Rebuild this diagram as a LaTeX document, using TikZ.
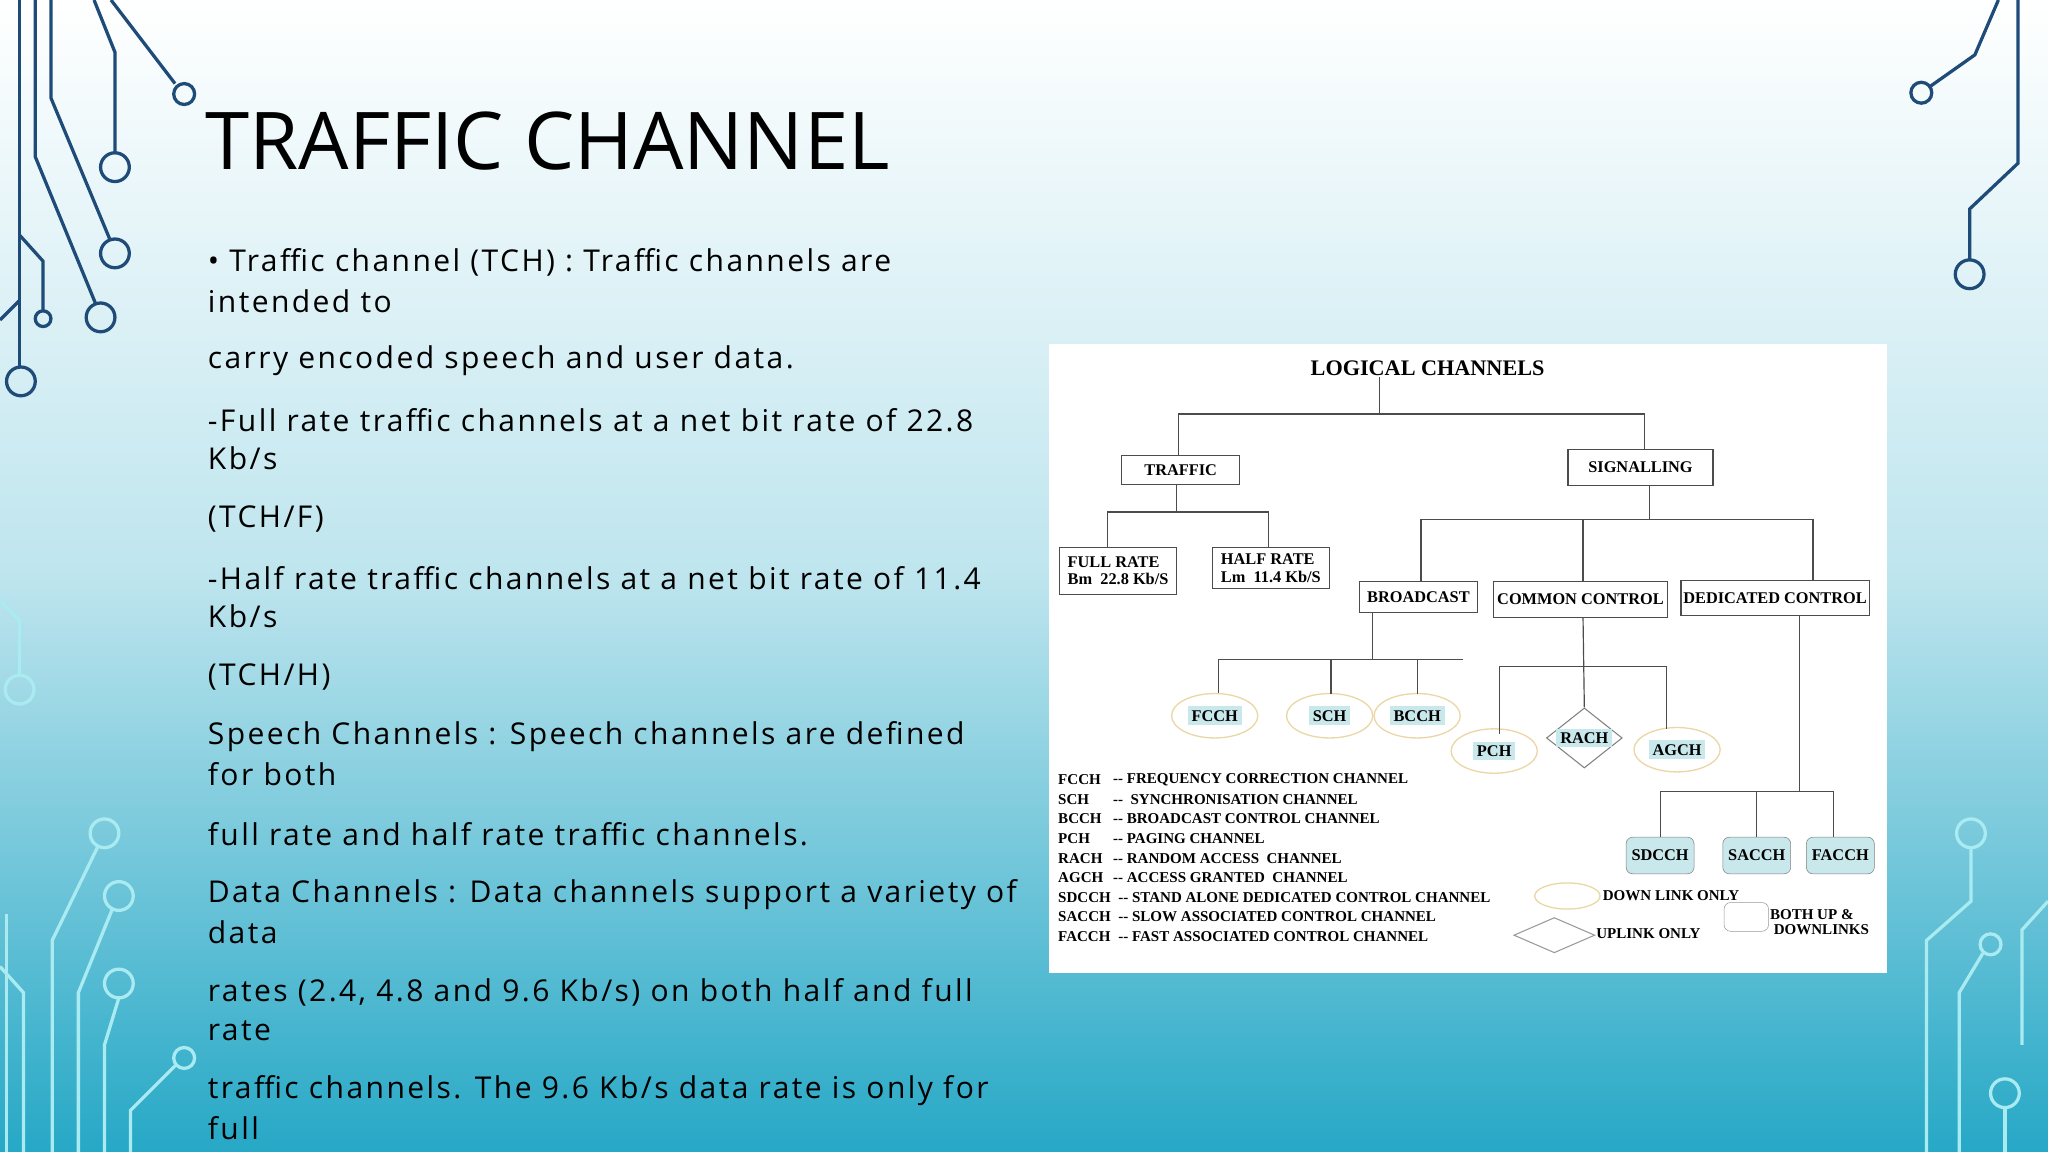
\documentclass[tikz,border=0pt]{standalone}
\usepackage{fontspec}
\setmainfont{Open Sans}[LetterSpace=8]
\newfontfamily\dserif{Liberation Serif}
\usetikzlibrary{shapes.geometric,shapes.misc}
\definecolor{teal1}{RGB}{38,168,198}
\definecolor{dblue}{RGB}{30,75,120}
\definecolor{lcyan}{RGB}{170,235,242}
\definecolor{tan1}{RGB}{235,215,165}
\definecolor{boxc}{RGB}{200,232,236}
\begin{document}
\begin{tikzpicture}[x=1pt,y=-1pt,
  body/.style={anchor=west,font=\fontsize{23}{24}\selectfont,inner sep=0},
  dtext/.style={font=\dserif\bfseries\fontsize{12.5}{13.5}\selectfont,inner sep=1pt},
  dbox/.style={dtext,draw=black!70,line width=0.8pt,rectangle,inner sep=2pt},
  ell/.style={ellipse,draw=tan1,line width=1pt,minimum width=66pt,minimum height=34pt,inner sep=0},
  lab/.style={dtext,fill=boxc,inner sep=3pt},
  oct/.style={draw=black!50,rounded corners=5pt,minimum width=52pt,minimum height=28pt,fill=boxc},
  dia/.style={diamond,draw=black!50,line width=0.8pt,aspect=1.3,minimum width=58pt,minimum height=46pt,inner sep=0},
  wire/.style={draw=black!70,line width=0.9pt},
  legend/.style={anchor=west,font=\dserif\bfseries\fontsize{11.5}{12}\selectfont,inner sep=0},
  cd/.style={draw=dblue,line width=2.5pt},
  cl/.style={draw=lcyan,line width=2.5pt}]
\useasboundingbox (0,0) rectangle (1568,882);
\shade[top color=white,bottom color=teal1,middle color=teal1!30] (0,0) rectangle (1568,882);
% circuit top-left
\draw[cd] (15,0)--(15,281); \draw[cd] (16,292) circle (11);
\draw[cd] (27,0)--(27,120)--(73,232); \draw[cd] (77,243) circle (11);
\draw[cd] (39,0)--(39,75)--(84,183); \draw[cd] (88,194) circle (11);
\draw[cd] (72,0)--(88,40)--(88,117); \draw[cd] (88,128) circle (11);
\draw[cd] (85,0)--(134,64); \draw[cd] (141,72) circle (8);
\draw[cd] (15,180)--(33,200)--(33,238); \draw[cd] (33,244) circle (6);
\draw[cd] (0,245)--(15,230);
% circuit top-right
\draw[cd] (1530,0)--(1512,42)--(1478,66); \draw[cd] (1471,71) circle (8);
\draw[cd] (1545,0)--(1545,125)--(1508,160)--(1508,199); \draw[cd] (1508,210) circle (11);
% circuit bottom-left
\draw[cl] (0,460)--(15,475)--(15,517); \draw[cl] (15,528) circle (11);
\draw[cl] (75,648)--(40,720)--(40,882); \draw[cl] (80,638) circle (11);
\draw[cl] (86,696)--(60,760)--(60,882); \draw[cl] (91,686) circle (11);
\draw[cl] (91,764)--(80,800)--(80,882); \draw[cl] (91,753) circle (11);
\draw[cl] (135,815)--(100,850)--(100,882); \draw[cl] (141,810) circle (8);
\draw[cl] (5,700)--(5,882); \draw[cl] (0,740)--(18,760)--(18,882);
% circuit bottom-right
\draw[cl] (1509,649)--(1509,690)--(1475,720)--(1475,882); \draw[cl] (1509,638) circle (11);
\draw[cl] (1518,730)--(1500,760)--(1500,882); \draw[cl] (1524,723) circle (8);
\draw[cl] (1535,848)--(1535,882); \draw[cl] (1535,837) circle (11);
\draw[cl] (1568,690)--(1548,712)--(1548,800);
% title and body
\node[anchor=west,inner sep=0,font=\addfontfeatures{LetterSpace=0}\fontsize{61}{66}\selectfont] (title) at (157,108) {TRAFFIC CHANNEL};
\node[body] (t1) at (159,201) {• Traffic channel (TCH) : Traffic channels are};
\node[body] (t2) at (159,231) {intended to};
\node[body] (t3) at (159,276) {carry encoded speech and user data.};
\node[body] (t4) at (159,322) {-Full rate traffic channels at a net bit rate of 22.8};
\node[body] (t5) at (159,351) {Kb/s};
\node[body] (t6) at (159,397) {(TCH/F)};
\node[body] (t7) at (159,443) {-Half rate traffic channels at a net bit rate of 11.4};
\node[body] (t8) at (159,472) {Kb/s};
\node[body] (t9) at (159,518) {(TCH/H)};
\node[body] (t10) at (159,564) {Speech Channels : Speech channels are defined};
\node[body] (t11) at (159,593) {for both};
\node[body] (t12) at (159,639) {full rate and half rate traffic channels.};
\node[body] (t13) at (159,685) {Data Channels : Data channels support a variety of};
\node[body] (t14) at (159,714) {data};
\node[body] (t15) at (159,760) {rates (2.4, 4.8 and 9.6 Kb/s) on both half and full};
\node[body] (t16) at (159,789) {rate};
\node[body] (t17) at (159,835) {traffic channels. The 9.6 Kb/s data rate is only for};
\node[body] (t18) at (159,864) {full};
% diagram
\fill[white] (803,263) rectangle (1445,745);
\node[font=\dserif\bfseries\fontsize{17}{18}\selectfont,inner sep=1pt] (lc) at (1093,282) {LOGICAL CHANNELS};
\node[dbox,minimum width=90pt,minimum height=22pt] (traffic) at (904,360) {TRAFFIC};
\node[dbox,minimum width=111pt,minimum height=27pt] (sig) at (1256,358) {SIGNALLING};
\node[dbox,align=left,minimum width=90pt,minimum height=36pt] (full) at (856,437) {FULL RATE\\Bm\ \ 22.8 Kb/S};
\node[dbox,align=left,minimum width=90pt,minimum height=31pt] (half) at (973,435) {HALF RATE\\Lm\ \ 11.4 Kb/S};
\node[dbox,minimum width=90pt,minimum height=24pt] (bc) at (1086,457) {BROADCAST};
\node[dbox,minimum width=133pt,minimum height=28pt,inner sep=1pt] (cc) at (1210,459) {COMMON CONTROL};
\node[dbox,minimum width=144pt,minimum height=27pt,inner sep=1pt] (dc) at (1359,458) {DEDICATED CONTROL};
\node[ell] (fcch) at (930,548) {}; \node[lab] at (fcch) {FCCH};
\node[ell] (sch) at (1018,548) {}; \node[lab] at (sch) {SCH};
\node[ell] (bcch) at (1085,548) {}; \node[lab] at (bcch) {BCCH};
\node[ell] (pch) at (1144,575) {}; \node[lab] at (pch) {PCH};
\node[dia] (rach) at (1213,565) {}; \node[lab] at (rach) {RACH};
\node[ell] (agch) at (1284,574) {}; \node[lab] at (agch) {AGCH};
\node[oct] (sdcch) at (1271,655) {}; \node[dtext] at (sdcch) {SDCCH};
\node[oct] (sacch) at (1345,655) {}; \node[dtext] at (sacch) {SACCH};
\node[oct] (facch) at (1409,655) {}; \node[dtext] at (facch) {FACCH};
% wires
\coordinate (j1) at (1056,317);
\draw[wire] (lc.south -| j1) -- (j1);
\draw[wire] (traffic.north -| 902,0) -- (902,317) -- (1259,317) -- (1259,344);
\draw[wire] (901,371) -- (901,392);
\draw[wire] (848,419) -- (848,392) -- (971,392) -- (971,419);
\draw[wire] (1263,372) -- (1263,398);
\draw[wire] (1088,445) -- (1088,398) -- (1388,398) -- (1388,445);
\draw[wire] (1212,398) -- (cc.north -| 1212,0);
\draw[wire] (1051,469) -- (1051,505);
\draw[wire] (fcch.north -| 933,0) -- (933,505) -- (1120,505);
\draw[wire] (1019,505) -- (1019,531); \draw[wire] (1085,505) -- (1085,531);
\draw[wire] (1212,473) -- (rach.north);
\draw[wire] (1148,562) -- (1148,510) -- (1276,510) -- (1276,558);
\draw[wire] (1378,472) -- (1378,606);
\draw[wire] (1271,641) -- (1271,606) -- (1404,606) -- (1404,641);
\draw[wire] (1345,606) -- (1345,641);
% legend
\node[legend] (l0a) at (810,597) {FCCH}; \node[legend] (l0b) at (852,597) {-- FREQUENCY CORRECTION CHANNEL};
\node[legend] (l1a) at (810,612) {SCH}; \node[legend] (l1b) at (852,612) {--\ \ SYNCHRONISATION CHANNEL};
\node[legend] (l2a) at (810,627) {BCCH}; \node[legend] (l2b) at (852,627) {-- BROADCAST CONTROL CHANNEL};
\node[legend] (l3a) at (810,642) {PCH}; \node[legend] (l3b) at (852,642) {-- PAGING CHANNEL};
\node[legend] (l4a) at (810,657) {RACH}; \node[legend] (l4b) at (852,657) {-- RANDOM ACCESS\ \ CHANNEL};
\node[legend] (l5a) at (810,672) {AGCH}; \node[legend] (l5b) at (852,672) {-- ACCESS GRANTED\ \ CHANNEL};
\node[legend] (l6a) at (810,687) {SDCCH}; \node[legend] (l6b) at (856,687) {-- STAND ALONE DEDICATED CONTROL CHANNEL};
\node[legend] (l7a) at (810,702) {SACCH}; \node[legend] (l7b) at (856,702) {-- SLOW ASSOCIATED CONTROL CHANNEL};
\node[legend] (l8a) at (810,717) {FACCH}; \node[legend] (l8b) at (856,717) {-- FAST ASSOCIATED CONTROL CHANNEL};
\node[ellipse,draw=tan1,line width=1pt,minimum width=50pt,minimum height=20pt] (ke) at (1200,686) {};
\node[legend] (kel) at (1227,686) {DOWN LINK ONLY};
\node[diamond,draw=black!40,line width=0.8pt,aspect=2.3,minimum width=62pt,minimum height=27pt,inner sep=0] (kd) at (1190,716) {};
\node[legend] (kdl) at (1222,715) {UPLINK ONLY};
\node[draw=black!40,rounded corners=5pt,minimum width=34pt,minimum height=22pt] (ko) at (1337,702) {};
\node[legend,align=left] (kol) at (1355,706) {BOTH UP \&\\\ DOWNLINKS};
\end{tikzpicture}
\end{document}
